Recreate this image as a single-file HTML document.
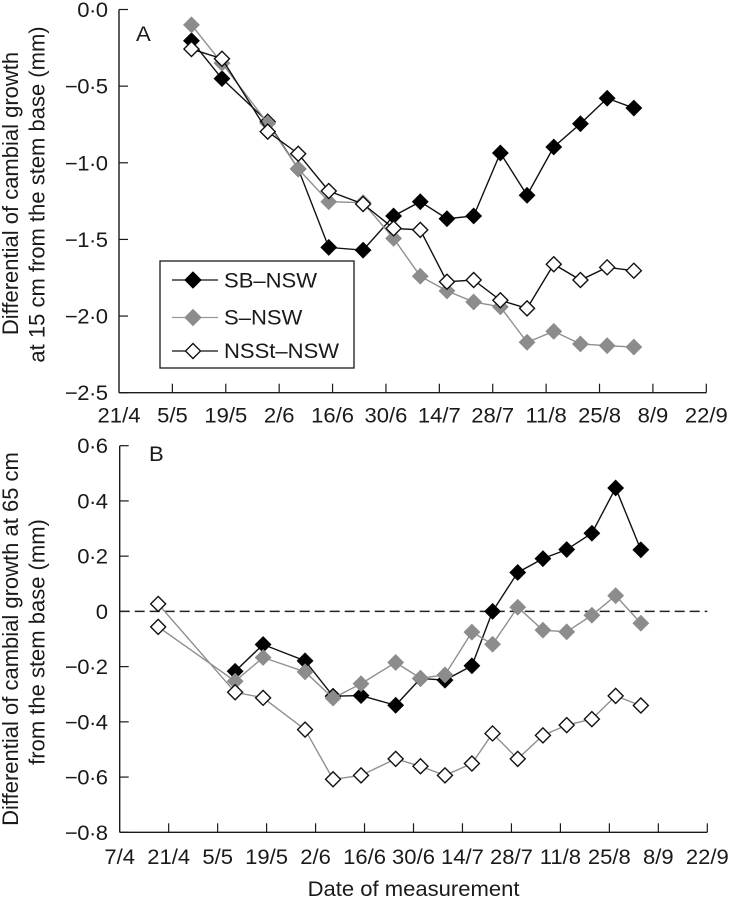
<!DOCTYPE html>
<html>
<head>
<meta charset="utf-8">
<title>Differential of cambial growth</title>
<style>
html,body{margin:0;padding:0;background:#fff;}
svg{display:block;font-family:"Liberation Sans",Arial,sans-serif;fill:#1a1a1a;}
text{font-size:21px;}
text.rot{font-size:22px;}
</style>
</head>
<body>
<svg id="chart" width="730" height="899" viewBox="0 0 730 899" xmlns="http://www.w3.org/2000/svg">
  <g id="panelA"></g>
  <g id="panelB"></g>
  <text transform="translate(136,41) scale(1.05,1)">A</text>
  <text transform="translate(149,461) scale(1.05,1)">B</text>
  <text class="rot" transform="translate(18,193.5) rotate(-90)" text-anchor="middle">Differential of cambial growth</text>
  <text class="rot" transform="translate(44.5,194.5) rotate(-90)" text-anchor="middle">at 15 cm from the stem base (mm)</text>
  <text class="rot" transform="translate(18,639) rotate(-90)" text-anchor="middle">Differential of cambial growth at 65 cm</text>
  <text class="rot" transform="translate(44.5,642) rotate(-90)" text-anchor="middle">from the stem base (mm)</text>
  <text transform="translate(413.5,896) scale(1.05,1)" text-anchor="middle">Date of measurement</text>
  <g>
    <rect x="160" y="261" width="194" height="107" fill="#fff" stroke="#1a1a1a" stroke-width="1.3"/>
    <g>
      <line x1="172" x2="218" y1="280" y2="280" stroke="#111" stroke-width="1.3"/>
      <polygon points="193,272 201,280 193,288 185,280" fill="#000" stroke="#000"/>
      <text transform="translate(224,287.5) scale(1.05,1)">SB–NSW</text>
    </g>
    <g>
      <line x1="172" x2="218" y1="317.5" y2="317.5" stroke="#999" stroke-width="1.3"/>
      <polygon points="193,309.5 201,317.5 193,325.5 185,317.5" fill="#8c8c8c" stroke="#8c8c8c"/>
      <text transform="translate(224,324.5) scale(1.05,1)">S–NSW</text>
    </g>
    <g>
      <line x1="172" x2="218" y1="351" y2="351" stroke="#111" stroke-width="1.3"/>
      <polygon points="193,343.5 200.5,351 193,358.5 185.5,351" fill="#fff" stroke="#111" stroke-width="1.4"/>
      <text transform="translate(224,358) scale(1.05,1)">NSSt–NSW</text>
    </g>
  </g>
</svg>
<script>
// Panel A data (x = days after 21 April)
const xLabelsA = ['21/4','5/5','19/5','2/6','16/6','30/6','14/7','28/7','11/8','25/8','8/9','22/9'];
const yTicksA = [0,-0.5,-1,-1.5,-2,-2.5];
const yLabelsA = ['0·0','−0·5','−1·0','−1·5','−2·0','−2·5'];
const daysA = [19,27,39,47,55,64,72,79,86,93,100,107,114,121,128,135];
const sbA = [-0.204,-0.451,-0.732,-1.04,-1.552,-1.57,-1.347,-1.254,-1.365,-1.347,-0.936,-1.212,-0.897,-0.745,-0.579,-0.643];
const sA = [-0.10,-0.35,-0.742,-1.04,-1.254,-1.26,-1.493,-1.74,-1.836,-1.908,-1.94,-2.171,-2.10,-2.182,-2.193,-2.202];
const nsstA = [-0.258,-0.321,-0.797,-0.941,-1.184,-1.269,-1.428,-1.438,-1.776,-1.765,-1.897,-1.95,-1.662,-1.765,-1.682,-1.704];

// Panel B data (x = days after 7 April)
const xLabelsB = ['7/4','21/4','5/5','19/5','2/6','16/6','30/6','14/7','28/7','11/8','25/8','8/9','22/9'];
const yTicksB = [0.6,0.4,0.2,0,-0.2,-0.4,-0.6,-0.8];
const yLabelsB = ['0·6','0·4','0·2','0','−0·2','−0·4','−0·6','−0·8'];
const daysB = [11,33,41,53,61,69,78.9,86,93,100.7,106.6,113.8,121,127.8,135,141.8,149];
const sbB = [null,-0.217,-0.120,-0.179,-0.307,-0.305,-0.34,-0.243,-0.249,-0.197,0,0.141,0.191,0.224,0.283,0.447,0.223];
const sB = [-0.056,-0.253,-0.167,-0.219,-0.314,-0.262,-0.185,-0.242,-0.23,-0.075,-0.119,0.015,-0.068,-0.074,-0.014,0.057,-0.043];
const nsstB = [0.027,-0.293,-0.313,-0.428,-0.608,-0.594,-0.534,-0.561,-0.594,-0.551,-0.442,-0.534,-0.449,-0.412,-0.39,-0.306,-0.341];

const NS = 'http://www.w3.org/2000/svg';
const INK = '#1a1a1a';
const tickStep = 14;

function make(parent, tag, attrs, text) {
  const node = document.createElementNS(NS, tag);
  for (const k in attrs) node.setAttribute(k, attrs[k]);
  if (text !== undefined) node.textContent = text;
  parent.appendChild(node);
  return node;
}

function xScale(left, right, maxDay) {
  return d => left + d / maxDay * (right - left);
}
function yScale(top, bottom, maxV, minV) {
  return v => top + (maxV - v) / (maxV - minV) * (bottom - top);
}

function drawAxes(g, x, y, xLabels, yTicks, yLabels, suffix, labelGap) {
  const x0 = x(0), xEnd = x((xLabels.length - 1) * tickStep);
  const yTop = y(yTicks[0]), yBot = y(yTicks[yTicks.length - 1]);
  const yAxis = make(g, 'line', {x1:x0, x2:x0, y1:yTop, y2:yBot, stroke:INK, 'stroke-width':1.4});
  
  
  const xAxis = make(g, 'line', {x1:x0, x2:xEnd, y1:yBot, y2:yBot, stroke:INK, 'stroke-width':1.4});
  
  
  yTicks.forEach((v, i) => {
    const t = make(g, 'line', {x1:x0, x2:x0 + 9, y1:y(v), y2:y(v), stroke:INK, 'stroke-width':1.2});
    
    
    const l = make(g, 'text', {transform:'translate(107.5,' + (y(v) + 7.5) + ') scale(1.05,1)', 'text-anchor':'end', 'letter-spacing':'-0.5'}, yLabels[i]);
    
    
  });
  xLabels.forEach((lab, i) => {
    const px = x(i * tickStep);
    if (i > 0) {
      const t = make(g, 'line', {x1:px, x2:px, y1:yBot, y2:yBot - 9, stroke:INK, 'stroke-width':1.2});
      
      
    }
    const l = make(g, 'text', {transform:'translate(' + px + ',' + (yBot + labelGap) + ') scale(1.05,1)', 'text-anchor':'middle'}, lab);
    
    
  });
}

function diamondPoints(cx, cy, r) {
  return [[cx,cy-r],[cx+r,cy],[cx,cy+r],[cx-r,cy]].map(p => p.join(',')).join(' ');
}

function drawSeries(g, x, y, days, values, name, lineColor, fill, stroke, firstWhite) {
  const pts = [];
  values.forEach((v, i) => { if (v !== null) pts.push([x(days[i]), y(v)]); });
  const line = make(g, 'polyline', {points:pts.map(p => p.join(',')).join(' '), fill:'none', stroke:lineColor, 'stroke-width':1.4});
  
  
  pts.forEach((p, i) => {
    const white = fill === '#fff' || (firstWhite && i === 0);
    const r = white ? 7.5 : 8;
    const m = make(g, 'polygon', {
      points: diamondPoints(p[0], p[1], r),
      fill: white ? '#fff' : fill,
      stroke: white ? '#111' : stroke,
      'stroke-width': white ? 1.4 : 0.6
    });
    
    
  });
}

const gA = document.getElementById('panelA');
const gB = document.getElementById('panelB');

const xA = xScale(119, 706.3, 154);
const yA = yScale(9.5, 392.7, 0, -2.5);
drawAxes(gA, xA, yA, xLabelsA, yTicksA, yLabelsA, 'a', 30);
drawSeries(gA, xA, yA, daysA, sbA, 'sb-nsw-a', '#111', '#000', '#000', false);
drawSeries(gA, xA, yA, daysA, sA, 's-nsw-a', '#8f8f8f', '#8c8c8c', '#8c8c8c', false);
drawSeries(gA, xA, yA, daysA, nsstA, 'nsst-nsw-a', '#111', '#fff', '#111', false);

const xB = xScale(119.7, 707.3, 168);
const yB = yScale(445.7, 832.3, 0.6, -0.8);
drawAxes(gB, xB, yB, xLabelsB, yTicksB, yLabelsB, 'b', 31.7);
const zero = make(gB, 'line', {x1:xB(0), x2:xB(168), y1:yB(0), y2:yB(0), stroke:'#222', 'stroke-width':1.4, 'stroke-dasharray':'10 5'});


drawSeries(gB, xB, yB, daysB, sbB, 'sb-nsw-b', '#111', '#000', '#000', false);
drawSeries(gB, xB, yB, daysB, sB, 's-nsw-b', '#8f8f8f', '#8c8c8c', '#8c8c8c', true);
drawSeries(gB, xB, yB, daysB, nsstB, 'nsst-nsw-b', '#8f8f8f', '#fff', '#111', false);
</script>
</body>
</html>
